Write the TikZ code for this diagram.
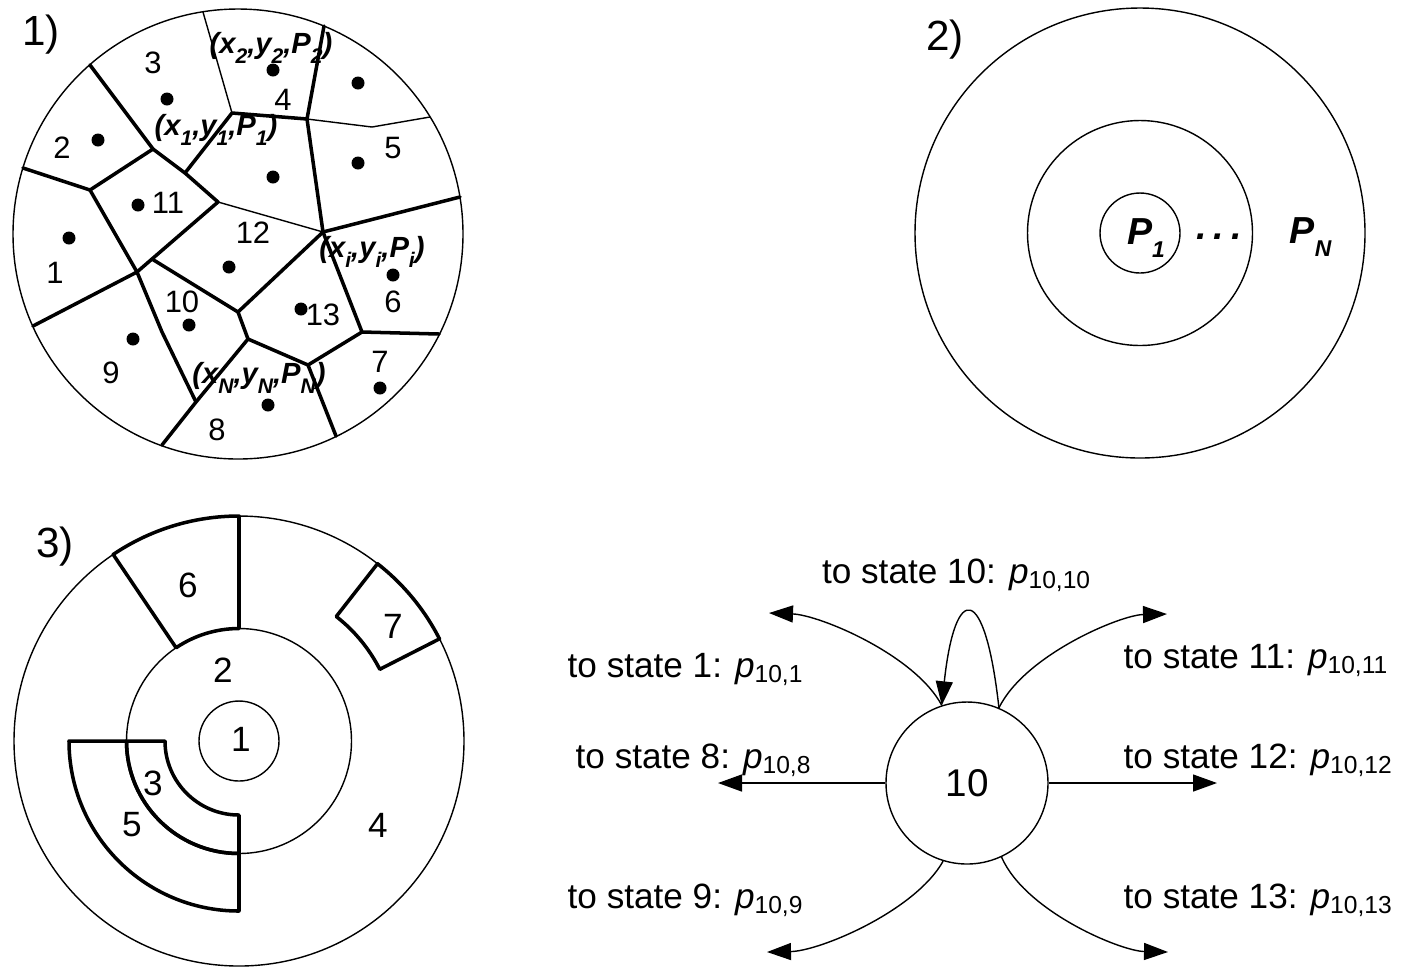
\documentclass[tikz,border=0pt]{standalone}
\usepackage{fontspec}
\setmainfont{Liberation Sans}
\usetikzlibrary{arrows.meta}

\newcommand{\lowsub}[3]{#1\raisebox{-0.35em}{\fontsize{#3}{#3}\selectfont #2}}
\newcommand{\ptrans}[1]{\textit{p}\textsubscript{#1}}

\begin{document}
\begin{tikzpicture}[
		hair/.style={line width=0.4pt},
		bord/.style={line width=1pt, line cap=round, line join=round},
		site/.style={circle, fill, inner sep=0pt, minimum size=0.13cm},
		smallnum/.style={font=\fontsize{8.8}{10}\selectfont, inner sep=0pt},
		num/.style={font=\fontsize{10}{12}\selectfont, inner sep=0pt},
		panel/.style={font=\fontsize{12}{14}\selectfont, inner sep=0pt},
		tuple/.style={font=\fontsize{8.3}{10}\selectfont\bfseries\itshape, inner sep=0pt},
		bigp/.style={font=\fontsize{10.7}{13}\selectfont\bfseries\itshape, inner sep=0pt},
		trans/.style={line width=0.4pt, -{Triangle[length=2.4mm,width=1.7mm]}},
		lbl/.style={font=\fontsize{10}{12}\selectfont, inner sep=0pt, anchor=base west}
	]
		\useasboundingbox (0cm,0cm) rectangle (14.06cm,-9.66cm);
		
		% 1) cells of the disc
		\draw[hair] (2.38cm,-2.34cm) circle (2.25cm);
		\coordinate (vA) at (0.90cm,-0.65cm);
		\coordinate (vB) at (1.53cm,-1.49cm);
		\coordinate (vC) at (1.85cm,-1.73cm);
		\coordinate (vD) at (2.32cm,-1.13cm);
		\coordinate (vE) at (3.07cm,-1.19cm);
		\coordinate (vF) at (3.24cm,-0.26cm);
		\coordinate (vT1) at (2.03cm,-0.12cm);
		\coordinate (vV) at (3.72cm,-1.27cm);
		\coordinate (vT2) at (4.30cm,-1.17cm);
		\coordinate (vG) at (3.23cm,-2.32cm);
		\coordinate (vR1) at (4.60cm,-1.97cm);
		\coordinate (vH) at (3.62cm,-3.32cm);
		\coordinate (vR2) at (4.39cm,-3.34cm);
		\coordinate (vI) at (3.08cm,-3.65cm);
		\coordinate (vB2) at (3.36cm,-4.36cm);
		\coordinate (vJ) at (2.48cm,-3.39cm);
		\coordinate (vK) at (2.38cm,-3.12cm);
		\coordinate (vL) at (1.52cm,-2.59cm);
		\coordinate (vM) at (2.18cm,-2.02cm);
		\coordinate (vP) at (0.90cm,-1.90cm);
		\coordinate (vW) at (0.23cm,-1.68cm);
		\coordinate (vN) at (1.37cm,-2.72cm);
		\coordinate (vX) at (0.33cm,-3.26cm);
		\coordinate (vQ) at (1.62cm,-3.32cm);
		\coordinate (vR) at (1.96cm,-4.02cm);
		\coordinate (vY) at (1.62cm,-4.45cm);
		
		\draw[bord] (vA) -- (vB) -- (vC) -- (vM) -- (vL) -- (vN) -- (vX);
		\draw[bord] (vC) -- (vD) -- (vE) -- (vF);
		\draw[bord] (vE) -- (vG) -- (vR1);
		\draw[bord] (vG) -- (vH) -- (vR2);
		\draw[bord] (vH) -- (vI) -- (vB2);
		\draw[bord] (vI) -- (vJ) -- (vK) -- (vG);
		\draw[bord] (vK) -- (vL);
		\draw[bord] (vB) -- (vP) -- (vW);
		\draw[bord] (vP) -- (vN) -- (vQ) -- (vR);
		\draw[bord] (vJ) -- (vR) -- (vY);
		\draw[hair] (vD) -- (vT1);
		\draw[hair] (vE) -- (vV) -- (vT2);
		\draw[hair] (vM) -- (vG);
		
		\foreach \x/\y [count=\i] in {1.67/-0.99, 2.73/-0.70, 3.58/-0.83, 0.98/-1.40, 3.58/-1.63,
			2.73/-1.77, 1.38/-2.05, 0.69/-2.38, 2.29/-2.67, 3.93/-2.75, 3.01/-3.09,
			1.89/-3.25, 1.33/-3.39, 3.80/-3.88, 2.68/-4.05}
			\node[site] (d\i) at (\x cm,\y cm) {};
		
		\foreach \t/\x/\y in {3/1.53/-0.63, 2/0.62/-1.48, 11/1.68/-2.03, 1/0.55/-2.73, 12/2.53/-2.33,
			5/3.93/-1.48, 4/2.83/-1.00, 10/1.82/-3.02, 13/3.23/-3.15, 6/3.93/-3.02,
			7/3.80/-3.62, 9/1.11/-3.73, 8/2.17/-4.30}
			\node[smallnum] (r\t) at (\x cm,\y cm) {\t};
		
		\node[tuple] (xy2) at (2.71cm,-0.48cm) {(\lowsub{x}{2}{6},\lowsub{y}{2}{6},\lowsub{P}{2}{6})};
		\node[tuple] (xy1) at (2.16cm,-1.30cm) {(\lowsub{x}{1}{6},\lowsub{y}{1}{6},\lowsub{P}{1}{6})};
		\node[tuple] (xyi) at (3.72cm,-2.52cm) {(\lowsub{x}{i}{6},\lowsub{y}{i}{6},\lowsub{P}{i}{6})};
		\node[tuple] (xyN) at (2.59cm,-3.78cm) {(\lowsub{x}{N}{6},\lowsub{y}{N}{6},\lowsub{P}{N}{6})};
		\node[panel] (lab1) at (0.41cm,-0.35cm) {1)};
		
		% 2) rings
		\draw[hair] (11.40cm,-2.33cm) circle (0.40cm) circle (1.125cm) circle (2.25cm);
		\node[bigp, anchor=base] (ring1) at (11.46cm,-2.44cm) {\lowsub{P}{1}{6.5}};
		\node[bigp, anchor=base] (ringdots) at (12.19cm,-2.39cm) {.\hspace{0.7mm}.\hspace{0.7mm}.};
		\node[bigp, anchor=base west] (ringN) at (12.89cm,-2.43cm) {\lowsub{P}{N}{6.5}};
		\node[panel] (lab2) at (9.45cm,-0.40cm) {2)};
		
		% 3) sectors
		\coordinate (o3) at (2.39cm,-7.41cm);
		\draw[hair] (o3) circle (0.40cm) circle (1.125cm) circle (2.25cm);
		\draw[bord] (o3) ++(90:2.25cm) arc[start angle=90, end angle=124, radius=2.25cm]
			-- ++(304:1.125cm) arc[start angle=124, end angle=90, radius=1.125cm] -- cycle;
		\draw[bord] (o3) ++(52:2.25cm) arc[start angle=52, end angle=27, radius=2.25cm]
			-- ++(207:0.67cm) arc[start angle=27, end angle=52, radius=1.58cm] -- cycle;
		\draw[bord] (o3) ++(180:0.74cm) arc[start angle=180, end angle=270, radius=0.74cm]
			-- ++(0cm,-0.385cm) arc[start angle=270, end angle=180, radius=1.125cm] -- cycle;
		\draw[bord] (o3) ++(180:1.125cm) arc[start angle=180, end angle=270, radius=1.125cm]
			-- ++(0cm,-0.575cm) arc[start angle=270, end angle=180, radius=1.70cm] -- cycle;
		\foreach \t/\x/\y in {6/1.88/-5.85, 7/3.93/-6.26, 2/2.23/-6.70, 1/2.41/-7.39,
			3/1.53/-7.83, 5/1.32/-8.25, 4/3.78/-8.25}
			\node[num] (s\t) at (\x cm,\y cm) {\t};
		\node[panel] (lab3) at (0.55cm,-5.47cm) {3)};
		
		% transitions out of state 10
		\node[draw, hair, circle, minimum size=1.62cm, inner sep=0pt, font=\fontsize{11}{13}\selectfont] (s10) at (9.67cm,-7.83cm) {10};
		\coordinate (t1) at (7.69cm,-6.13cm);
		\coordinate (t11) at (11.67cm,-6.14cm);
		\coordinate (t8) at (7.18cm,-7.83cm);
		\coordinate (t12) at (12.17cm,-7.83cm);
		\coordinate (t9) at (7.67cm,-9.52cm);
		\coordinate (t13) at (11.68cm,-9.52cm);
		
		\draw[trans] (s10.west) -- (t8);
		\draw[trans] (s10.east) -- (t12);
		\draw[trans] (s10.108) .. controls (9.15cm,-6.55cm) and (8.20cm,-6.15cm) .. (t1);
		\draw[trans] (s10.67) .. controls (10.25cm,-6.55cm) and (11.20cm,-6.15cm) .. (t11);
		\draw[trans] (s10.-107) .. controls (9.15cm,-9.11cm) and (8.20cm,-9.51cm) .. (t9);
		\draw[trans] (s10.-65) .. controls (10.25cm,-9.11cm) and (11.20cm,-9.51cm) .. (t13);
		\draw[trans] (s10.67) .. controls (9.85cm,-5.82cm) and (9.55cm,-5.82cm) .. (s10.108);
		
		\node[lbl, anchor=base] (q10) at (9.57cm,-5.83cm) {to state 10: \ptrans{10,10}};
		\node[lbl] (q1) at (5.67cm,-6.77cm) {to state 1: \ptrans{10,1}};
		\node[lbl] (q8) at (5.75cm,-7.68cm) {to state 8: \ptrans{10,8}};
		\node[lbl] (q9) at (5.67cm,-9.08cm) {to state 9: \ptrans{10,9}};
		\node[lbl] (q11) at (11.23cm,-6.68cm) {to state 11: \ptrans{10,11}};
		\node[lbl] (q12) at (11.23cm,-7.68cm) {to state 12: \ptrans{10,12}};
		\node[lbl] (q13) at (11.23cm,-9.08cm) {to state 13: \ptrans{10,13}};
	\end{tikzpicture}
\end{document}
